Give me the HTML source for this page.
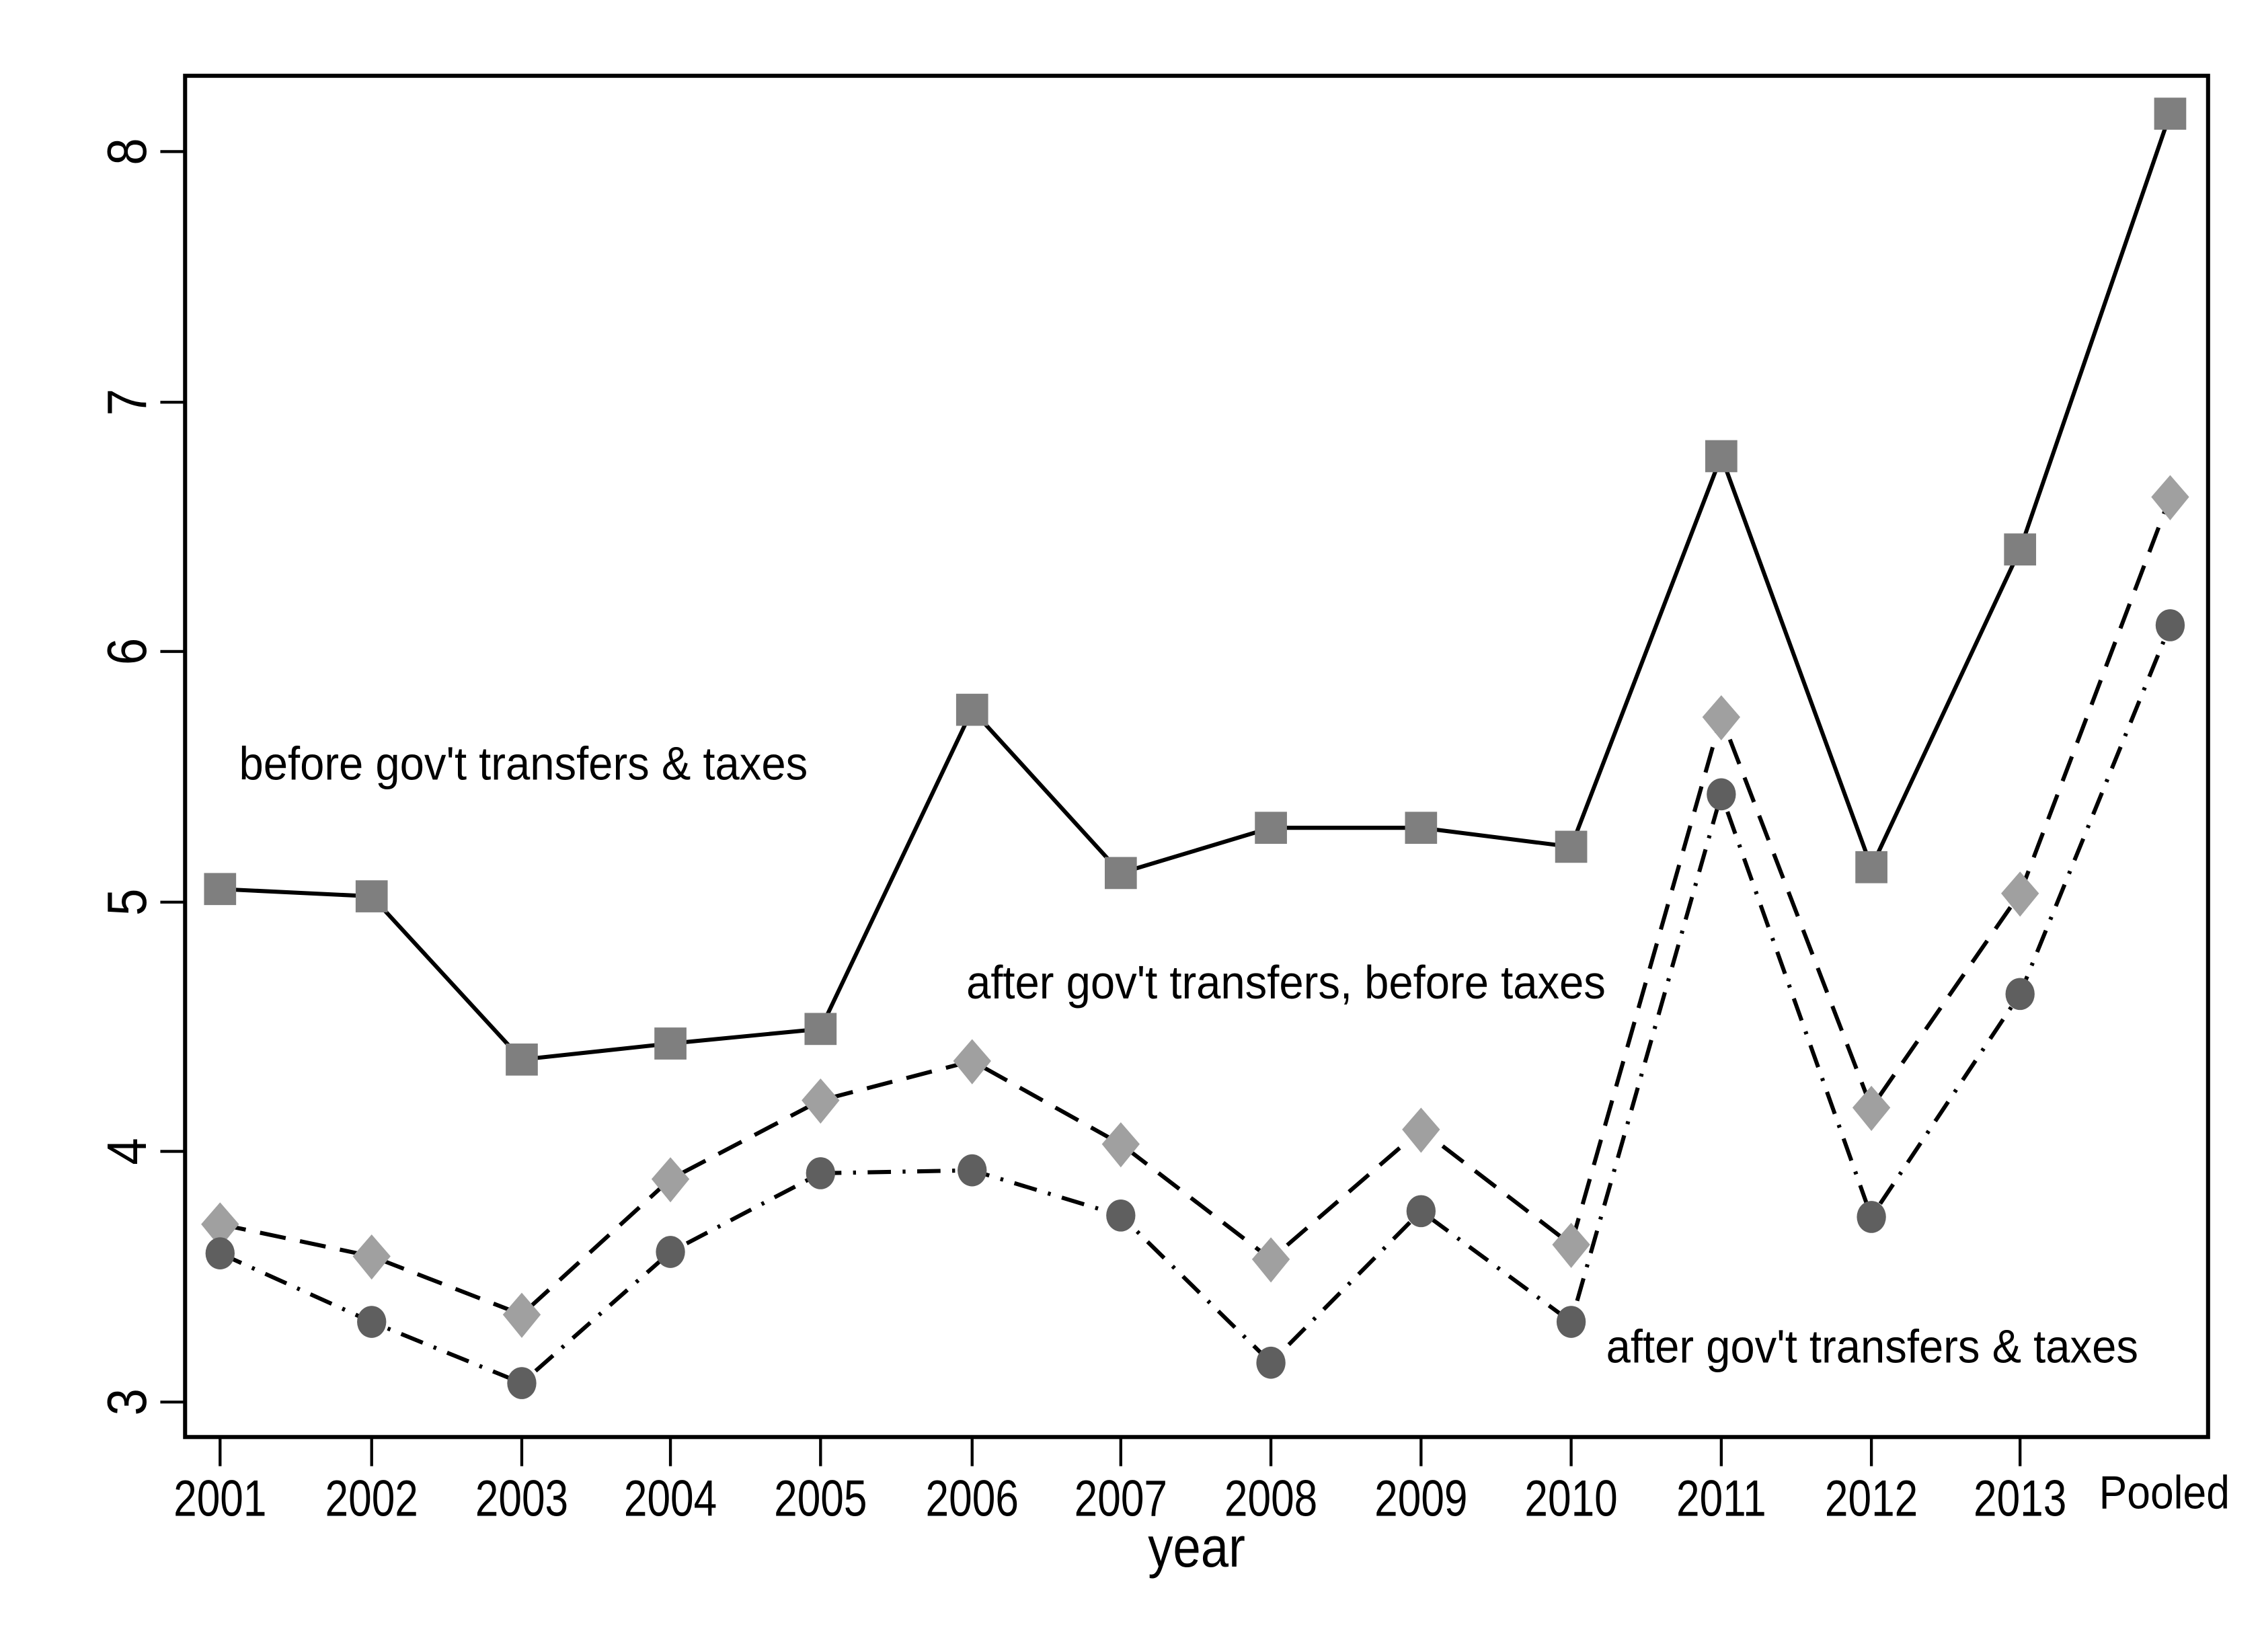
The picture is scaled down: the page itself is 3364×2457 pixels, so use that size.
<!DOCTYPE html>
<html><head><meta charset="utf-8"><style>
html,body{margin:0;padding:0;background:#fff;}
svg{display:block;}
text{font-family:"Liberation Sans",Arial,sans-serif;fill:#000;}
</style></head><body>
<svg width="3364" height="2457" viewBox="0 0 1552 1133.5" preserveAspectRatio="none" xmlns="http://www.w3.org/2000/svg">
<rect width="1552" height="1134" fill="#fff"/>
<rect x="127" y="52" width="1388" height="934" fill="none" stroke="#000" stroke-width="2.8"/>
<g stroke="#000" stroke-width="2">
<line x1="110" y1="962" x2="127" y2="962"/><line x1="110" y1="790" x2="127" y2="790"/>
<line x1="110" y1="619" x2="127" y2="619"/><line x1="110" y1="447" x2="127" y2="447"/>
<line x1="110" y1="276" x2="127" y2="276"/><line x1="110" y1="104" x2="127" y2="104"/>
</g>
<g font-size="38" text-anchor="middle">
<text transform="translate(100,962) rotate(-90) scale(0.88,1)">3</text>
<text transform="translate(100,790) rotate(-90) scale(0.88,1)">4</text>
<text transform="translate(100,619) rotate(-90) scale(0.88,1)">5</text>
<text transform="translate(100,447) rotate(-90) scale(0.88,1)">6</text>
<text transform="translate(100,276) rotate(-90) scale(0.88,1)">7</text>
<text transform="translate(100,104) rotate(-90) scale(0.88,1)">8</text>
</g>
<g stroke="#000" stroke-width="2">
<line x1="151" y1="986" x2="151" y2="1006"/><line x1="255" y1="986" x2="255" y2="1006"/>
<line x1="358" y1="986" x2="358" y2="1006"/><line x1="460" y1="986" x2="460" y2="1006"/>
<line x1="563" y1="986" x2="563" y2="1006"/><line x1="667" y1="986" x2="667" y2="1006"/>
<line x1="769" y1="986" x2="769" y2="1006"/><line x1="872" y1="986" x2="872" y2="1006"/>
<line x1="975" y1="986" x2="975" y2="1006"/><line x1="1078" y1="986" x2="1078" y2="1006"/>
<line x1="1181" y1="986" x2="1181" y2="1006"/><line x1="1284" y1="986" x2="1284" y2="1006"/>
<line x1="1386" y1="986" x2="1386" y2="1006"/>
</g>
<g font-size="35" text-anchor="middle">
<text transform="translate(151,1040) scale(0.82,1)">2001</text>
<text transform="translate(255,1040) scale(0.82,1)">2002</text>
<text transform="translate(358,1040) scale(0.82,1)">2003</text>
<text transform="translate(460,1040) scale(0.82,1)">2004</text>
<text transform="translate(563,1040) scale(0.82,1)">2005</text>
<text transform="translate(667,1040) scale(0.82,1)">2006</text>
<text transform="translate(769,1040) scale(0.82,1)">2007</text>
<text transform="translate(872,1040) scale(0.82,1)">2008</text>
<text transform="translate(975,1040) scale(0.82,1)">2009</text>
<text transform="translate(1078,1040) scale(0.82,1)">2010</text>
<text transform="translate(1181,1040) scale(0.82,1)">2011</text>
<text transform="translate(1284,1040) scale(0.82,1)">2012</text>
<text transform="translate(1386,1040) scale(0.82,1)">2013</text>
<text font-size="32" transform="translate(1485,1035) scale(0.9,1)">Pooled</text>
</g>
<text font-size="39" text-anchor="middle" transform="translate(821,1075) scale(0.88,1)">year</text>
<polyline fill="none" stroke="#000" stroke-width="2.8" points="151,610 255,615 358,727 460,716 563,706 667,487 769,599 872,568 975,568 1078,581 1181,313 1284,595 1386,377 1489,78"/>
<polyline fill="none" stroke="#000" stroke-width="2.8" stroke-dasharray="18,10" points="151,840 255,862 358,902 460,809 563,755 667,728 769,785 872,864 975,775 1078,854 1181,492 1284,760 1386,613 1489,341"/>
<polyline fill="none" stroke="#000" stroke-width="2.8" stroke-dasharray="16,8,2,8" points="151,860 255,907 358,949 460,859 563,805 667,803 769,834 872,935 975,831 1078,907 1181,545 1284,835 1386,682 1489,429"/>
<g fill="#7f7f7f">
<rect x="140" y="599" width="22" height="22"/><rect x="244" y="604" width="22" height="22"/>
<rect x="347" y="716" width="22" height="22"/><rect x="449" y="705" width="22" height="22"/>
<rect x="552" y="695" width="22" height="22"/><rect x="656" y="476" width="22" height="22"/>
<rect x="758" y="588" width="22" height="22"/><rect x="861" y="557" width="22" height="22"/>
<rect x="964" y="557" width="22" height="22"/><rect x="1067" y="570" width="22" height="22"/>
<rect x="1170" y="302" width="22" height="22"/><rect x="1273" y="584" width="22" height="22"/>
<rect x="1375" y="366" width="22" height="22"/><rect x="1478" y="67" width="22" height="22"/>
</g>
<g fill="#a0a0a0">
<path d="M151,825l13,15l-13,16l-13,-16z"/><path d="M255,847l13,15l-13,16l-13,-16z"/>
<path d="M358,887l13,15l-13,16l-13,-16z"/><path d="M460,794l13,15l-13,16l-13,-16z"/>
<path d="M563,740l13,15l-13,16l-13,-16z"/><path d="M667,713l13,15l-13,16l-13,-16z"/>
<path d="M769,770l13,15l-13,16l-13,-16z"/><path d="M872,849l13,15l-13,16l-13,-16z"/>
<path d="M975,760l13,15l-13,16l-13,-16z"/><path d="M1078,839l13,15l-13,16l-13,-16z"/>
<path d="M1181,477l13,15l-13,16l-13,-16z"/><path d="M1284,745l13,15l-13,16l-13,-16z"/>
<path d="M1386,598l13,15l-13,16l-13,-16z"/><path d="M1489,326l13,15l-13,16l-13,-16z"/>
</g>
<g fill="#5f5f5f">
<ellipse cx="151" cy="860" rx="10" ry="11"/><ellipse cx="255" cy="907" rx="10" ry="11"/>
<ellipse cx="358" cy="949" rx="10" ry="11"/><ellipse cx="460" cy="859" rx="10" ry="11"/>
<ellipse cx="563" cy="805" rx="10" ry="11"/><ellipse cx="667" cy="803" rx="10" ry="11"/>
<ellipse cx="769" cy="834" rx="10" ry="11"/><ellipse cx="872" cy="935" rx="10" ry="11"/>
<ellipse cx="975" cy="831" rx="10" ry="11"/><ellipse cx="1078" cy="907" rx="10" ry="11"/>
<ellipse cx="1181" cy="545" rx="10" ry="11"/><ellipse cx="1284" cy="835" rx="10" ry="11"/>
<ellipse cx="1386" cy="682" rx="10" ry="11"/><ellipse cx="1489" cy="429" rx="10" ry="11"/>
</g>
<g font-size="32">
<text transform="translate(164,535) scale(0.94,1)">before gov't transfers &amp; taxes</text>
<text transform="translate(663,685) scale(0.94,1)">after gov't transfers, before taxes</text>
<text transform="translate(1102,935) scale(0.94,1)">after gov't transfers &amp; taxes</text>
</g>
</svg>
</body></html>
